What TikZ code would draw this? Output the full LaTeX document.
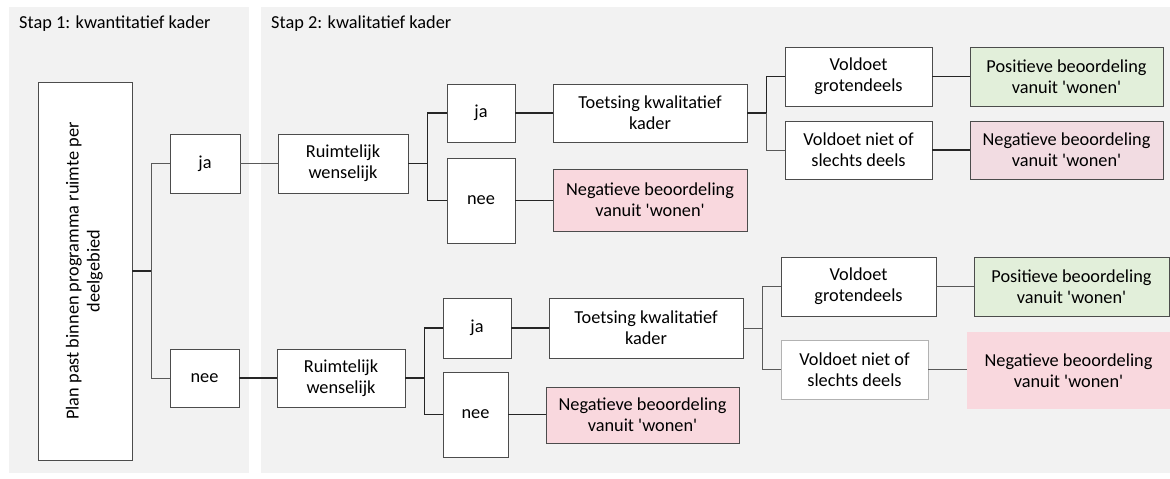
\documentclass[tikz,border=0pt]{standalone}
\usepackage{fontspec}
\setmainfont{Carlito}
\usetikzlibrary{positioning}
\definecolor{panelgrey}{RGB}{242,242,242}
\definecolor{posgreen}{RGB}{226,239,218}
\definecolor{negpink}{RGB}{249,216,222}
\definecolor{negrose}{RGB}{242,220,226}
\newcommand{\boxfont}{\fontsize{18.3}{21}\selectfont}
\newcommand{\wonen}{vanuit \textquotesingle wonen\textquotesingle}
\tikzset{
  box/.style={draw=black!70, line width=0.9pt, fill=white, align=center, inner sep=2pt, font=\boxfont},
  posbox/.style={box, fill=posgreen},
  negbox/.style={box, fill=negpink},
  link/.style={draw=black!85, line width=1.6pt},
  thinlink/.style={draw=black!65, line width=0.9pt},
  title/.style={anchor=base west, inner sep=0pt, font=\boxfont}
}

\begin{document}
\begin{tikzpicture}[x=1pt, y=-1pt]

  % background and panels
  \fill[white] (0,0) rectangle (1170,479);
  \useasboundingbox (0,0) rectangle (1170,479);
  \fill[panelgrey] (9,7) rectangle (249,473);
  \fill[panelgrey] (261,7) rectangle (1170,473);
  \node[title] (stap1) at (19,28) {Stap 1: kwantitatief kader};
  \node[title] (stap2) at (271,28) {Stap 2: kwalitatief kader};

  % stap 1
  \node[box, minimum width=94pt, minimum height=378pt] (plan) at (85,271) {\rotatebox{90}{\begin{tabular}{@{}c@{}}Plan past binnen programma ruimte per\\deelgebied\end{tabular}}};
  \node[box, minimum width=70pt, minimum height=59pt] (jaA) at (205,163.5) {ja};
  \node[box, minimum width=69pt, minimum height=58pt] (neeA) at (204.5,378) {nee};

  % stap 2, bovenste tak
  \node[box, minimum width=130pt, minimum height=59pt] (ruimA) at (343,163.5) {Ruimtelijk\\wenselijk};
  \node[box, minimum width=68pt, minimum height=58pt] (jaB) at (481,113) {ja};
  \node[box, minimum width=68pt, minimum height=85pt] (neeB) at (481,200.5) {nee};
  \node[box, minimum width=194pt, minimum height=58pt] (toetsA) at (650,113) {Toetsing kwalitatief\\kader};
  \node[negbox, minimum width=194pt, minimum height=62pt] (negA) at (650,200) {Negatieve beoordeling\\\wonen};
  \node[box, minimum width=147pt, minimum height=59pt] (voldA) at (858.5,76.5) {Voldoet\\grotendeels};
  \node[box, minimum width=147pt, minimum height=58pt] (voldnietA) at (858.5,150) {Voldoet niet of\\slechts deels};
  \node[posbox, minimum width=193pt, minimum height=59pt] (posA) at (1066.5,76.5) {Positieve beoordeling\\\wonen};
  \node[box, fill=negrose, minimum width=193pt, minimum height=58pt] (negC) at (1066.5,150) {Negatieve beoordeling\\\wonen};

  % stap 2, onderste tak
  \node[box, minimum width=128pt, minimum height=58pt] (ruimB) at (341,378) {Ruimtelijk\\wenselijk};
  \node[box, minimum width=68pt, minimum height=60pt] (jaC) at (477,328) {ja};
  \node[box, minimum width=65pt, minimum height=85pt] (neeC) at (475.5,414.5) {nee};
  \node[box, minimum width=194pt, minimum height=60pt] (toetsB) at (646,328) {Toetsing kwalitatief\\kader};
  \node[negbox, minimum width=193pt, minimum height=56pt] (negB) at (642.5,415) {Negatieve beoordeling\\\wonen};
  \node[box, minimum width=155pt, minimum height=59pt] (voldB) at (858.5,286.5) {Voldoet\\grotendeels};
  \node[box, draw=black!30, minimum width=147pt, minimum height=59pt] (voldnietB) at (854.5,369.5) {Voldoet niet of\\slechts deels};
  \node[posbox, minimum width=195pt, minimum height=59pt] (posB) at (1071.5,286.5) {Positieve beoordeling\\\wonen};
  \node[negbox, draw=none, minimum width=203pt, minimum height=77pt] (negD) at (1068.5,370.5) {Negatieve beoordeling\\\wonen};

  % verbindingen
  \draw[link] (plan.east) -- ++(19,0) coordinate (s1);
  \draw[thinlink] (s1) |- (jaA.west);
  \draw[thinlink] (s1) |- (neeA.west);
  \draw[thinlink] (jaA) -- (ruimA);
  \draw[link] (neeA) -- (ruimB);

  \draw[link] (ruimA.east) -- ++(19,0) coordinate (s2);
  \draw[link] (s2) |- (jaB.west);
  \draw[link] (s2) |- (neeB.west);
  \draw[link] (jaB) -- (toetsA);
  \draw[link] (neeB.east) -- (negA.west |- neeB.east);
  \draw[link] (toetsA.east) -- ++(19,0) coordinate (s3);
  \draw[link] (s3) |- (voldA.west);
  \draw[thinlink] (s3) |- (voldnietA.west);
  \draw[link] (voldA) -- (posA);
  \draw[link] (voldnietA) -- (negC);

  \draw[link] (ruimB.east) -- ++(19,0) coordinate (s4);
  \draw[link] (s4) |- (jaC.west);
  \draw[link] (s4) |- (neeC.west);
  \draw[link] (jaC) -- (toetsB);
  \draw[link] (neeC.east) -- (negB.west |- neeC.east);
  \draw[thinlink] (toetsB.east) -- ++(19,0) coordinate (s5);
  \draw[thinlink] (s5) |- (voldB.west);
  \draw[thinlink] (s5) |- (voldnietB.west);
  \draw[thinlink] (voldB) -- (posB);
  \draw[thinlink] (voldnietB.east) -- (negD.west |- voldnietB.east);
\end{tikzpicture}
\end{document}
